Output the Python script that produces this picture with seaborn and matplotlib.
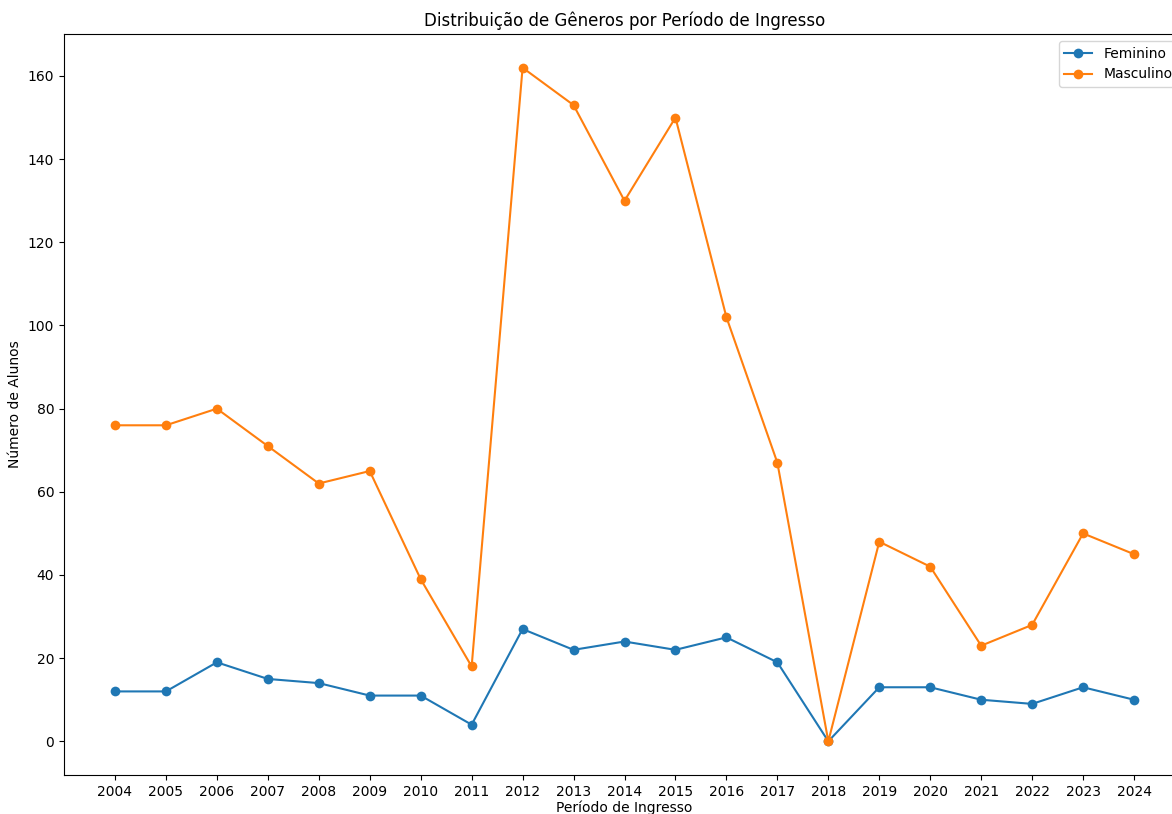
import matplotlib
matplotlib.use("Agg")
import matplotlib.pyplot as plt
import seaborn as sns
import pandas as pd

# Student intake by gender and entry year
anos = list(range(2004, 2025))
feminino = [12, 12, 19, 15, 14, 11, 11, 4, 27, 22, 24, 22, 25, 19, 0, 13, 13, 10, 9, 13, 10]
masculino = [76, 76, 80, 71, 62, 65, 39, 18, 162, 153, 130, 150, 102, 67, 0, 48, 42, 23, 28, 50, 45]
generos = ["Feminino", "Masculino"]
cores = ["#1f77b4", "#ff7f0e"]

df = pd.DataFrame({
    "Período de Ingresso": anos * 2,
    "Número de Alunos": feminino + masculino,
    "Gênero": [generos[0]] * len(anos) + [generos[1]] * len(anos),
})

fig = plt.figure(figsize=(11.72, 8.14), dpi=100)
ax = fig.add_axes([64 / 1172, 39 / 814, 1121 / 1172, 741 / 814])

for genero, cor in zip(generos, cores):
    sub = df[df["Gênero"] == genero]
    sns.lineplot(
        data=sub, x="Período de Ingresso", y="Número de Alunos",
        color=cor, marker="o", markersize=7, markeredgewidth=0,
        linewidth=1.5, label=genero, ax=ax,
    )

ax.set_xticks(anos)
ax.set_title("Distribuição de Gêneros por Período de Ingresso")
ax.set_xlabel("Período de Ingresso", labelpad=1.5)
ax.set_ylabel("Número de Alunos")
ax.legend(loc="upper right")

fig.savefig("out.png", dpi=100)
